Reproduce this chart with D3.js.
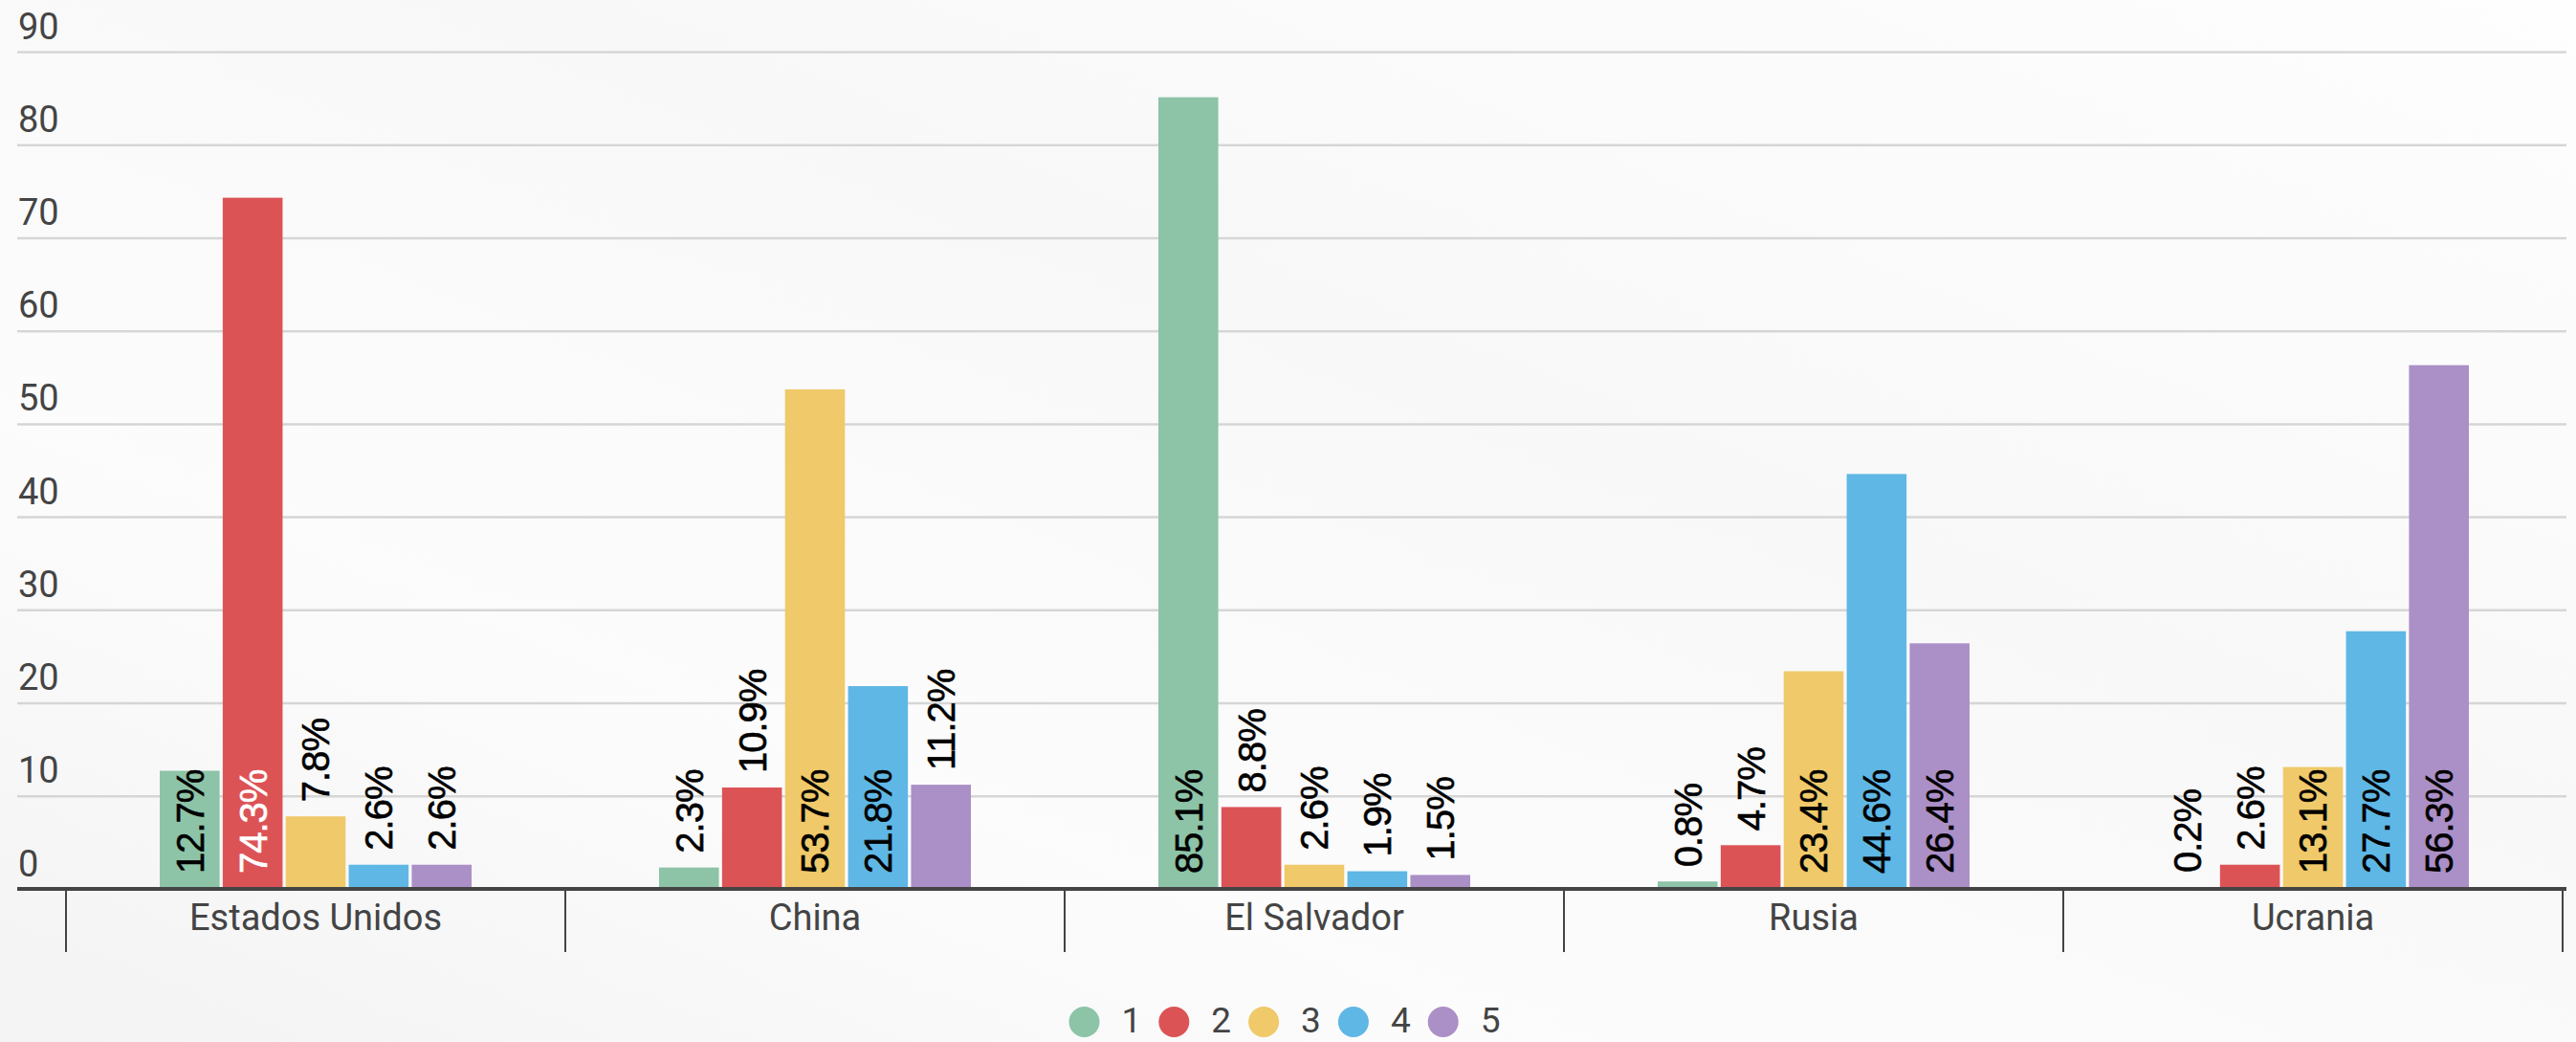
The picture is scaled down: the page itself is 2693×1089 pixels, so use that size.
<!DOCTYPE html>
<meta charset="utf-8">
<style>
body { margin: 0; background: #fafafa; }
.axis text { font-family: Roboto, sans-serif; fill: #444; }
.lbl { font-family: "Liberation Sans", Arial, sans-serif; font-size: 40px; letter-spacing: -1px; stroke-width: 0.6px; }
</style>
<body>
<script src="https://cdn.jsdelivr.net/npm/d3@7/dist/d3.min.js"></script>
<script>

// data
var countries = ["Estados Unidos", "China", "El Salvador", "Rusia", "Ucrania"];
var series = ["1", "2", "3", "4", "5"];
var s1 = [12.7, 2.3, 85.1, 0.8, 0.2];
var s2 = [74.3, 10.9, 8.8, 4.7, 2.6];
var s3 = [7.8, 53.7, 2.6, 23.4, 13.1];
var s4 = [2.6, 21.8, 1.9, 44.6, 27.7];
var s5 = [2.6, 11.2, 1.5, 26.4, 56.3];
var yTicks = [0, 10, 20, 30, 40, 50, 60, 70, 80, 90];
var colors = ["#8dc3a7", "#dc5356", "#efc96a", "#5fb7e5", "#ab8fc7"];

var allSeries = [s1, s2, s3, s4, s5];

var W = 2693, H = 1089;
var gridLeft = 18, gridRight = 2683;

var svg = d3.select("body").append("svg")
    .attr("width", W)
    .attr("height", H);

// background
var defs = svg.append("defs");
var grad = defs.append("linearGradient").attr("id", "bg")
    .attr("x1", "0").attr("y1", "1").attr("x2", "1").attr("y2", "0");
grad.append("stop").attr("offset", "0").attr("stop-color", "#f3f3f3");
grad.append("stop").attr("offset", "0.3").attr("stop-color", "#fcfcfc");
grad.append("stop").attr("offset", "0.6").attr("stop-color", "#f8f8f8");
grad.append("stop").attr("offset", "1").attr("stop-color", "#fefefe");
svg.append("rect").attr("width", W).attr("height", H).attr("fill", "url(#bg)");

// scales
var x0 = d3.scaleBand()
    .domain(countries)
    .range([69, 2679]);

var x1 = d3.scaleBand()
    .domain(series)
    .range([(x0.bandwidth() - 326) / 2, (x0.bandwidth() + 326) / 2])
    .paddingInner(0.05);

var y = d3.scaleLinear()
    .domain([0, 90])
    .range([929, 54]);

// y axis with gridlines
var yAxis = svg.append("g")
    .attr("class", "axis")
    .attr("transform", "translate(" + gridLeft + ",0)")
    .call(d3.axisRight(y).tickValues(yTicks).tickSize(gridRight - gridLeft));
yAxis.select(".domain").remove();
yAxis.selectAll(".tick line")
    .attr("stroke", "#d6d6d6")
    .attr("stroke-width", 2.5)
    .filter(function(d) { return d === 0; }).remove();
yAxis.selectAll(".tick text")
    .attr("x", 1)
    .attr("y", -14)
    .attr("dy", 0)
    .attr("text-anchor", "start")
    .style("font-size", "38px");

// bars
var rows = countries.map(function(c, i) {
  return series.map(function(s, j) {
    return {country: c, key: s, idx: j, value: allSeries[j][i]};
  });
});

var groups = svg.selectAll(".grp")
    .data(rows)
  .enter().append("g")
    .attr("class", "grp")
    .attr("transform", function(d, i) { return "translate(" + x0(countries[i]) + ",0)"; });

groups.selectAll("rect")
    .data(function(d) { return d; })
  .enter().append("rect")
    .attr("x", function(d) { return x1(d.key); })
    .attr("width", x1.bandwidth())
    .attr("y", function(d) { return y(d.value); })
    .attr("height", function(d) { return y(0) - y(d.value); })
    .attr("fill", function(d) { return colors[d.idx]; });

// value labels (rotated), inside the bar when they fit
groups.selectAll(".lbl")
    .data(function(d) { return d; })
  .enter().append("text")
    .attr("class", "lbl")
    .text(function(d) { return d.value.toFixed(1) + "%"; })
    .each(function(d) {
      var t = d3.select(this);
      var len = this.getComputedTextLength();
      var h = y(0) - y(d.value);
      var inside = h >= len + 12;
      var cx = x1(d.key) + x1.bandwidth() / 2;
      var base = inside ? y(0) - 16 : y(d.value) - 15;
      var col = inside && d.idx === 1 ? "#fff" : "#000";
      t.attr("transform", "translate(" + cx + "," + base + ") rotate(-90)")
        .attr("dy", "0.36em")
        .attr("fill", col)
        .attr("stroke", col);
    });

// x axis
var xAxis = svg.append("g")
    .attr("class", "axis")
    .attr("transform", "translate(0," + y(0) + ")")
    .call(d3.axisBottom(x0).tickSize(0).tickPadding(16));
xAxis.select(".domain").remove();
xAxis.selectAll(".tick text").style("font-size", "38px").attr("dy", "0.71em");

svg.append("line")
    .attr("x1", gridLeft).attr("x2", gridRight)
    .attr("y1", y(0)).attr("y2", y(0))
    .attr("stroke", "#444").attr("stroke-width", 4);

var bounds = countries.map(function(c) { return x0(c); });
bounds.push(x0(countries[countries.length - 1]) + x0.bandwidth());
svg.selectAll(".btick")
    .data(bounds)
  .enter().append("line")
    .attr("x1", function(d) { return d; })
    .attr("x2", function(d) { return d; })
    .attr("y1", y(0))
    .attr("y2", 995)
    .attr("stroke", "#444")
    .attr("stroke-width", 2);

// legend
var legend = svg.append("g").attr("class", "axis");
var items = legend.selectAll("g")
    .data(series)
  .enter().append("g");
items.append("circle")
    .attr("r", 16)
    .attr("cy", 1068)
    .attr("fill", function(d, i) { return colors[i]; });
items.append("text")
    .attr("y", 1079)
    .style("font-size", "37px")
    .text(function(d) { return d; });

var pos = 0;
items.each(function() {
  var g = d3.select(this);
  var tw = g.select("text").node().getComputedTextLength();
  g.select("circle").attr("cx", pos + 16);
  g.select("text").attr("x", pos + 55);
  pos += 55 + tw + 18;
});
pos -= 18;
legend.attr("transform", "translate(" + (1343 - pos / 2) + ",0)");

</script>
</body>
